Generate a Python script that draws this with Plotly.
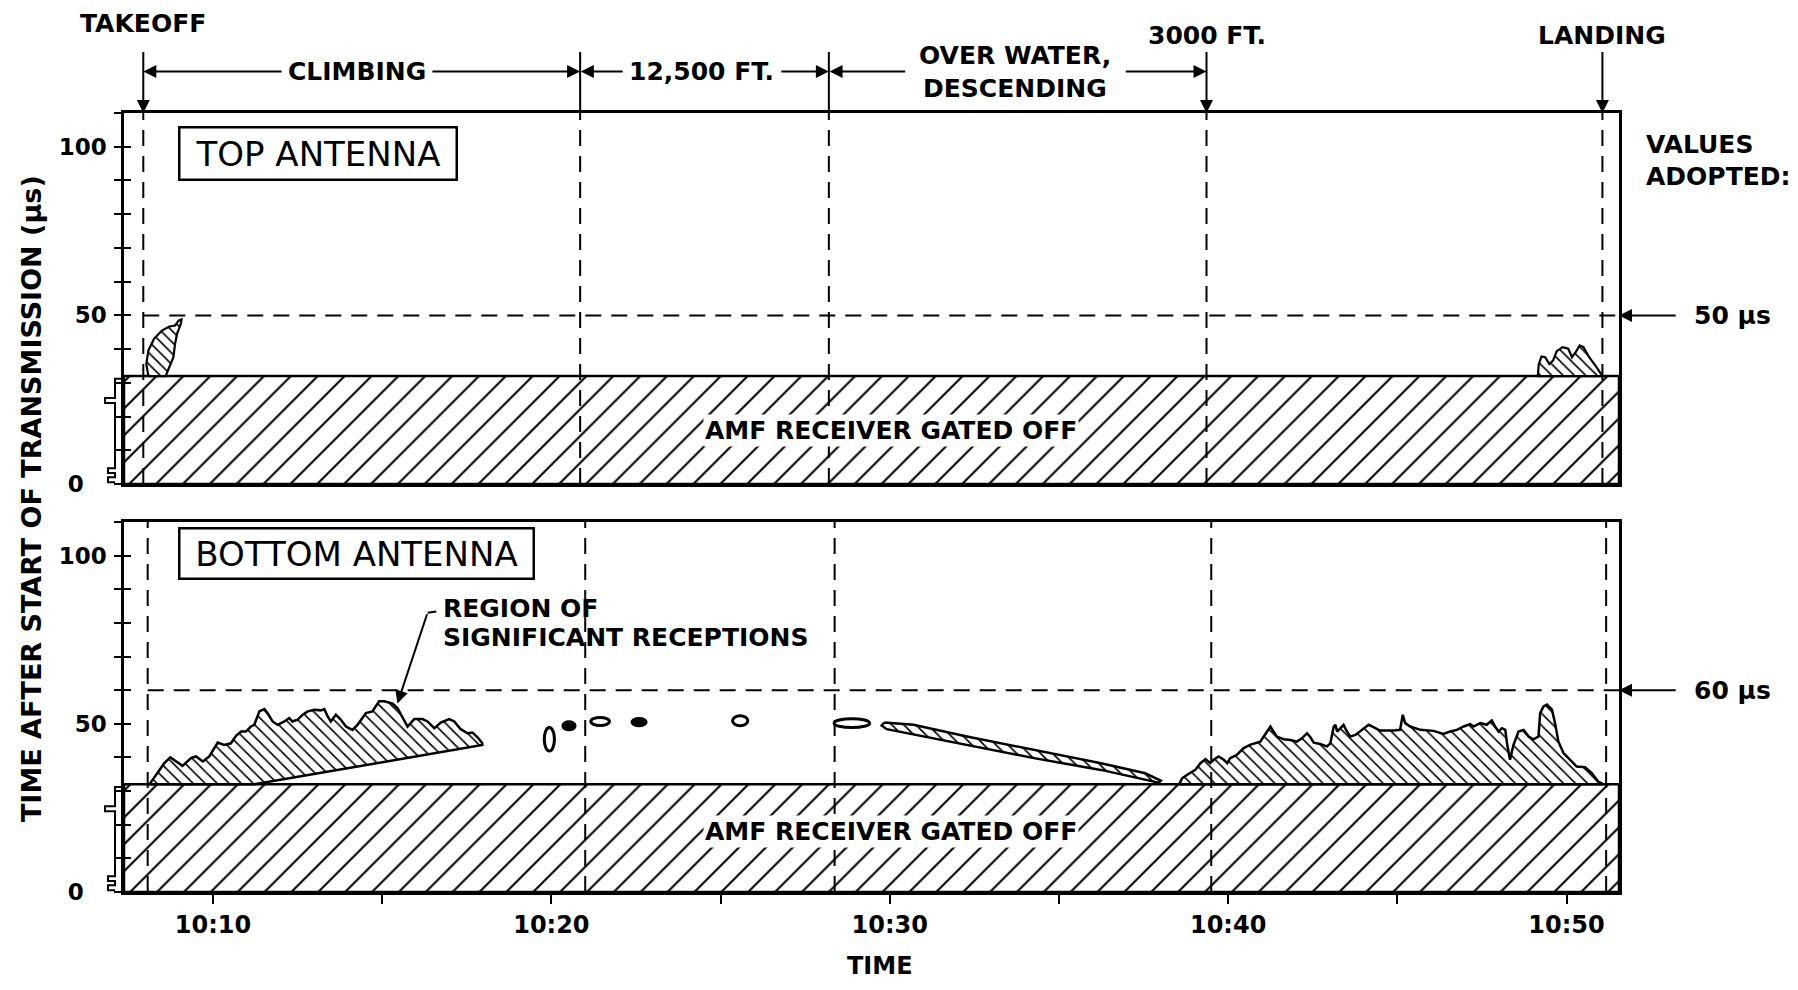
import plotly.graph_objects as go

# ---------------- data (time in minutes after 10:00, delay in microseconds) ----------------
X_RANGE = [7.37, 51.55]
Y_RANGE = [0, 110]
X_TICK_VALS = [10, 15, 20, 25, 30, 35, 40, 45, 50]
X_TICK_TEXT = ["10:10", "", "10:20", "", "10:30", "", "10:40", "", "10:50"]
Y_TICK_VALS = [0, 50, 100]
Y_TICK_TEXT = ["0", "50", "100"]

GATE_US = 32
ADOPTED_TOP_US = 50
ADOPTED_BOTTOM_US = 60

# flight-phase boundaries: takeoff, end climb, end 12,500 ft, 3000 ft, landing
PHASE_MIN_TOP = [7.94, 20.85, 28.2, 39.36, 51.06]
PHASE_MIN_BOTTOM = [8.07, 21.0, 28.37, 39.5, 51.17]

# top antenna reception regions
TOP_LEFT_MIN = [8.09, 8.03, 8.09, 8.26, 8.49, 8.71, 8.88, 8.99, 9.07, 9.05, 8.94, 8.88, 8.83, 8.71, 8.60, 8.09]
TOP_LEFT_US = [32.0, 35.6, 39.6, 43.1, 45.5, 46.7, 47.0, 48.5, 48.8, 47.5, 44.6, 41.6, 37.6, 34.6, 32.0, 32.0]

TOP_RIGHT_MIN = [49.15, 49.18, 49.26, 49.37, 49.49, 49.60, 49.71, 49.88, 50.05, 50.16, 50.27, 50.39, 50.50, 50.67, 50.89, 51.06, 49.15]
TOP_RIGHT_US = [32.0, 35.6, 37.8, 37.6, 35.6, 36.6, 39.4, 40.6, 40.1, 37.6, 39.1, 41.1, 40.6, 37.6, 34.6, 32.0, 32.0]

# bottom antenna reception regions
BOT_LEFT_MIN = [8.12, 8.56, 8.74, 8.91, 9.10, 9.35, 9.50, 9.70, 9.89, 10.14,
                10.33, 10.53, 10.68, 10.83, 10.97, 11.12, 11.22, 11.37, 11.52, 11.61,
                11.76, 11.91, 12.11, 12.25, 12.35, 12.50, 12.65, 12.80, 12.99, 13.19,
                13.29, 13.39, 13.48, 13.63, 13.78, 13.93, 14.12, 14.27, 14.52, 14.71,
                14.91, 15.06, 15.31, 15.45, 15.65, 15.75, 15.95, 16.19, 16.34, 16.54,
                16.73, 16.98, 17.13, 17.32, 17.52, 17.67, 17.82, 17.96, 17.96, 11.22,
                8.12]
BOT_LEFT_US = [32.0, 38.3, 40.0, 38.8, 37.5, 39.8, 40.3, 38.8, 40.3, 44.4,
               43.7, 44.2, 46.4, 47.7, 47.7, 49.2, 49.7, 53.7, 54.4, 53.2,
               50.7, 49.7, 50.7, 51.7, 50.7, 51.2, 52.7, 53.7, 54.2, 54.0,
               54.4, 52.2, 50.7, 52.7, 51.2, 49.2, 48.2, 49.7, 53.2, 53.7,
               56.7, 56.7, 56.0, 54.7, 51.2, 49.2, 51.4, 51.4, 50.7, 48.7,
               50.4, 51.4, 50.7, 48.4, 47.2, 47.4, 46.0, 44.2, 43.7, 32.0,
               32.0]

STRIP_MIN = [29.84, 30.70, 32.28, 34.26, 36.24, 37.55, 38.01, 37.95, 36.24, 34.26, 32.28, 30.70, 29.91, 29.76, 29.84]
STRIP_US = [50.4, 49.7, 46.2, 42.3, 38.3, 35.3, 33.1, 32.5, 36.3, 39.8, 43.8, 46.9, 48.4, 49.5, 50.4]

BOT_RIGHT_MIN = [38.55, 38.64, 38.78, 39.03, 39.18, 39.33, 39.47, 39.57, 39.72, 39.87,
                 39.97, 40.06, 40.26, 40.46, 40.66, 40.95, 41.15, 41.25, 41.34, 41.44,
                 41.64, 41.84, 42.03, 42.18, 42.33, 42.43, 42.53, 42.72, 42.92, 43.02,
                 43.12, 43.17, 43.22, 43.31, 43.41, 43.51, 43.61, 43.76, 43.95, 44.15,
                 44.25, 44.49, 44.89, 45.08, 45.16, 45.23, 45.38, 45.68, 46.07, 46.36,
                 46.56, 46.76, 46.96, 47.15, 47.25, 47.45, 47.64, 47.79, 47.89, 47.99,
                 48.09, 48.19, 48.24, 48.33, 48.43, 48.58, 48.73, 48.88, 49.02, 49.17,
                 49.22, 49.32, 49.42, 49.57, 49.66, 49.76, 49.91, 50.11, 50.30, 50.55,
                 50.75, 50.94, 51.09, 38.55]
BOT_RIGHT_US = [32.0, 33.8, 34.8, 36.3, 38.3, 39.5, 38.3, 39.3, 40.3, 39.3,
                38.3, 39.8, 40.8, 42.8, 43.8, 44.7, 47.7, 49.2, 47.7, 46.2,
                45.4, 45.2, 44.7, 45.7, 47.2, 46.0, 44.4, 44.0, 43.3, 44.2,
                49.2, 49.7, 47.7, 48.7, 49.7, 47.7, 46.2, 46.7, 48.2, 49.7,
                49.2, 48.0, 48.0, 48.2, 52.7, 50.2, 49.2, 48.2, 47.9, 47.0,
                47.7, 48.2, 49.2, 49.9, 49.2, 50.2, 49.7, 51.0, 49.2, 47.7,
                48.7, 48.2, 44.2, 39.3, 43.7, 47.7, 48.2, 46.2, 45.4, 46.2,
                53.2, 55.2, 55.7, 54.2, 50.2, 44.7, 41.3, 39.3, 37.3, 37.1,
                35.3, 32.8, 32.0, 32.0]

# isolated receptions at 12,500 ft
SPOT_MIN = [19.94, 20.52, 21.44, 22.59, 25.58, 28.88]
SPOT_US = [45.4, 49.4, 50.7, 50.5, 50.9, 50.2]
SPOT_W_MIN = [0.30, 0.36, 0.55, 0.42, 0.45, 1.05]
SPOT_H_US = [7.0, 2.4, 2.4, 2.2, 3.0, 2.6]
SPOT_SOLID = [False, True, False, True, False, False]

# ---------------- styling helpers ----------------
BOLD = dict(family="DejaVu Sans", size=25, color="black", weight="bold")
REG = dict(family="DejaVu Sans", size=34, color="black")
DASH = "16px,10px"


def xd(m):
    return (m - X_RANGE[0]) / (X_RANGE[1] - X_RANGE[0])


def yd(v):
    return (v - Y_RANGE[0]) / (Y_RANGE[1] - Y_RANGE[0])


fig = go.Figure()


def region(xs, ys, xa, ya, shape, size, solidity, lw):
    return go.Scatter(
        x=xs, y=ys, xaxis=xa, yaxis=ya, mode="lines", fill="toself",
        fillpattern=dict(shape=shape, size=size, solidity=solidity,
                         fgcolor="black", bgcolor="white", fillmode="replace"),
        line=dict(color="black", width=lw), hoverinfo="skip", showlegend=False)


gx = [X_RANGE[0], X_RANGE[1], X_RANGE[1], X_RANGE[0], X_RANGE[0]]
gy = [0, 0, GATE_US, GATE_US, 0]
for xa, ya in (("x", "y"), ("x2", "y2")):
    fig.add_trace(region(gx, gy, xa, ya, "/", 19, 0.11, 2.5))

fig.add_trace(region(TOP_LEFT_MIN, TOP_LEFT_US, "x", "y", "\\", 8, 0.2, 2.2))
fig.add_trace(region(TOP_RIGHT_MIN, TOP_RIGHT_US, "x", "y", "\\", 8, 0.2, 2.2))
fig.add_trace(region(BOT_LEFT_MIN, BOT_LEFT_US, "x2", "y2", "\\", 8.5, 0.18, 2.5))
fig.add_trace(region(STRIP_MIN, STRIP_US, "x2", "y2", "\\", 8.5, 0.2, 2.5))
fig.add_trace(region(BOT_RIGHT_MIN, BOT_RIGHT_US, "x2", "y2", "\\", 8.5, 0.18, 2.5))

# traces for the inner-tick overlay axes
fig.add_trace(go.Scatter(x=[], y=[], xaxis="x", yaxis="y3", showlegend=False, hoverinfo="skip"))
fig.add_trace(go.Scatter(x=[], y=[], xaxis="x2", yaxis="y4", showlegend=False, hoverinfo="skip"))

shapes = []
for m in PHASE_MIN_TOP:
    shapes.append(dict(type="line", xref="x", yref="y", x0=m, x1=m, y0=Y_RANGE[0], y1=Y_RANGE[1],
                       line=dict(color="black", width=2, dash=DASH), layer="above"))
for m in PHASE_MIN_BOTTOM:
    shapes.append(dict(type="line", xref="x2", yref="y2", x0=m, x1=m, y0=Y_RANGE[0], y1=Y_RANGE[1],
                       line=dict(color="black", width=2, dash=DASH), layer="above"))
shapes.append(dict(type="line", xref="x", yref="y", x0=PHASE_MIN_TOP[0], x1=X_RANGE[1],
                   y0=ADOPTED_TOP_US, y1=ADOPTED_TOP_US, line=dict(color="black", width=2, dash=DASH), layer="above"))
shapes.append(dict(type="line", xref="x2", yref="y2", x0=PHASE_MIN_BOTTOM[0], x1=X_RANGE[1],
                   y0=ADOPTED_BOTTOM_US, y1=ADOPTED_BOTTOM_US, line=dict(color="black", width=2, dash=DASH), layer="above"))

for m, v, w, h, solid in zip(SPOT_MIN, SPOT_US, SPOT_W_MIN, SPOT_H_US, SPOT_SOLID):
    shapes.append(dict(type="circle", xref="x2", yref="y2", x0=m - w / 2, x1=m + w / 2,
                       y0=v - h / 2, y1=v + h / 2, line=dict(color="black", width=3),
                       fillcolor="black" if solid else "white"))


# gate timing glyph left of each y axis
def glyph(xr, yr):
    pts = [(0, GATE_US - 0.8), (-0.006, GATE_US - 0.8), (-0.006, 25.5), (-0.0127, 25.5),
           (-0.0127, 24.0), (-0.006, 24.0), (-0.006, 4.7), (-0.0107, 4.7),
           (-0.0107, 3.3), (-0.006, 3.3), (-0.006, 2.0), (-0.0107, 2.0),
           (-0.0107, 0.5), (-0.006, 0.5)]
    path = "M " + " L ".join(f"{x:.4f},{yd(y):.4f}" for x, y in pts)
    return dict(type="path", xref=xr, yref=yr, path=path, line=dict(color="black", width=2))


shapes.append(glyph("x domain", "y domain"))
shapes.append(glyph("x2 domain", "y2 domain"))
shapes.append(dict(type="line", xref="x2", yref="y2", x0=16.34, x1=16.6, y0=83.0, y1=83.4,
                   line=dict(color="black", width=2)))

ann = []
TOP_ARROW_Y = 122.3
MARK_TOP_Y = 128.5


def arrow(x, y, ax, ay, panel="", head=2):
    xr, yr = f"x{panel} domain", f"y{panel} domain"
    return dict(x=xd(x), y=yd(y), ax=xd(ax), ay=yd(ay), xref=xr, yref=yr, axref=xr, ayref=yr,
                text="", showarrow=True, arrowhead=head, arrowsize=1.3, arrowwidth=2,
                arrowcolor="black", standoff=0, startstandoff=0)


def label(text, x, y, panel="", font=BOLD, xanchor="center", **kw):
    d = dict(text=text, x=xd(x), y=yd(y), xref=f"x{panel} domain", yref=f"y{panel} domain",
             showarrow=False, font=font, xanchor=xanchor, yanchor="middle")
    d.update(kw)
    return d


# vertical markers above the top panel
for i, m in enumerate(PHASE_MIN_TOP):
    ann.append(arrow(m, Y_RANGE[1], m, MARK_TOP_Y, head=0 if i in (1, 2) else 2))
# dimension arrows
ann += [arrow(PHASE_MIN_TOP[0], TOP_ARROW_Y, 12.07, TOP_ARROW_Y),
        arrow(PHASE_MIN_TOP[1], TOP_ARROW_Y, 16.44, TOP_ARROW_Y),
        arrow(PHASE_MIN_TOP[1] + 0.02, TOP_ARROW_Y, 22.15, TOP_ARROW_Y),
        arrow(PHASE_MIN_TOP[2], TOP_ARROW_Y, 26.75, TOP_ARROW_Y),
        arrow(PHASE_MIN_TOP[2] + 0.02, TOP_ARROW_Y, 30.5, TOP_ARROW_Y),
        arrow(PHASE_MIN_TOP[3], TOP_ARROW_Y, 36.93, TOP_ARROW_Y)]

ann += [label("TAKEOFF", PHASE_MIN_TOP[0], 136.5),
        label("CLIMBING", 14.25, TOP_ARROW_Y),
        label("12,500 FT.", 24.45, TOP_ARROW_Y),
        label("OVER WATER,", 33.7, 127.0),
        label("DESCENDING", 33.7, 117.3),
        label("3000 FT.", PHASE_MIN_TOP[3], 133.1),
        label("LANDING", PHASE_MIN_TOP[4], 133.1)]

# panel titles
ann.append(label("TOP ANTENNA", 13.09, 97.9, font=REG, bordercolor="black", borderwidth=2.5,
                 borderpad=2, bgcolor="white", width=271, height=46))
ann.append(label("BOTTOM ANTENNA", 14.25, 100.6, panel="2", font=REG, bordercolor="black",
                 borderwidth=2.5, borderpad=2, bgcolor="white", width=348, height=44))

# gated-off labels
ann.append(label("AMF RECEIVER GATED OFF", 30.05, 16.0, bgcolor="white", borderpad=1))
ann.append(label("AMF RECEIVER GATED OFF", 30.05, 18.0, panel="2", bgcolor="white", borderpad=1))

# region callout
ann.append(arrow(15.45, 56.0, 16.34, 83.0, panel="2"))
ann.append(label("REGION OF", 16.73, 84.2, panel="2", xanchor="left"))
ann.append(label("SIGNIFICANT RECEPTIONS", 16.73, 75.6, panel="2", xanchor="left"))

# adopted values
ann.append(label("VALUES", 52.29, 100.6, xanchor="left"))
ann.append(label("ADOPTED:", 52.29, 91.1, xanchor="left"))
ann.append(arrow(X_RANGE[1], ADOPTED_TOP_US, 53.27, ADOPTED_TOP_US))
ann.append(label(f"{ADOPTED_TOP_US} µs", 53.71, ADOPTED_TOP_US, xanchor="left"))
ann.append(arrow(X_RANGE[1], ADOPTED_BOTTOM_US, 53.27, ADOPTED_BOTTOM_US, panel="2"))
ann.append(label(f"{ADOPTED_BOTTOM_US} µs", 53.71, ADOPTED_BOTTOM_US, panel="2", xanchor="left"))

# axis titles
ann.append(dict(text="TIME AFTER START OF TRANSMISSION (µs)", x=-0.0615, y=0.5045, xref="paper",
                yref="paper", showarrow=False, textangle=-90, font=dict(BOLD, size=27),
                xanchor="center", yanchor="middle"))
ann.append(dict(text="TIME", x=0.5057, y=-0.095, xref="paper", yref="paper", showarrow=False,
                font=dict(BOLD, size=24), xanchor="center", yanchor="middle"))

FRAME = dict(showgrid=False, zeroline=False, showline=True, mirror=True, linecolor="black", linewidth=2.5)
TICKFONT = dict(family="DejaVu Sans", size=23, color="black", weight="bold")
MINOR_Y = list(range(Y_RANGE[0], Y_RANGE[1] + 1, 10))
# the zero label sits left of the gate glyph, as in the original
Y_TICK_SHOWN = [t + ("\u2002\u2002" if v == 0 else "") for t, v in zip(Y_TICK_TEXT, Y_TICK_VALS)]

yaxis_common = dict(range=Y_RANGE, tickvals=Y_TICK_VALS, ticktext=Y_TICK_SHOWN, ticks="outside",
                    ticklen=7, tickwidth=2, tickcolor="black", tickfont=TICKFONT, ticklabelstandoff=3,
                    minor=dict(tickvals=MINOR_Y, ticks="outside", ticklen=7, tickwidth=2, tickcolor="black"),
                    **FRAME)
inner_common = dict(range=Y_RANGE, tickvals=Y_TICK_VALS, ticks="inside", ticklen=7, tickwidth=2,
                    tickcolor="black", showticklabels=False, showgrid=False, zeroline=False, showline=False,
                    minor=dict(tickvals=MINOR_Y, ticks="inside", ticklen=7, tickwidth=2, tickcolor="black"))

TOP_DOMAIN = [0.5237, 1.0]
BOTTOM_DOMAIN = [0.0, 0.475]

fig.update_layout(
    width=1790, height=982,
    margin=dict(l=116, r=179, t=105, b=98),
    paper_bgcolor="white", plot_bgcolor="white", showlegend=False,
    xaxis=dict(range=X_RANGE, domain=[0, 1], anchor="y", ticks="", showticklabels=False, **FRAME),
    yaxis=dict(domain=TOP_DOMAIN, anchor="x", **yaxis_common),
    xaxis2=dict(range=X_RANGE, domain=[0, 1], anchor="y2", tickvals=X_TICK_VALS, ticktext=X_TICK_TEXT,
                ticks="outside", ticklen=9, tickwidth=2, tickcolor="black",
                tickfont=dict(TICKFONT, size=24), **FRAME),
    yaxis2=dict(domain=BOTTOM_DOMAIN, anchor="x2", **yaxis_common),
    yaxis3=dict(overlaying="y", anchor="x", side="left", **inner_common),
    yaxis4=dict(overlaying="y2", anchor="x2", side="left", **inner_common),
    shapes=shapes,
    annotations=ann,
)

fig.write_html("out.html", config={"displayModeBar": False})
